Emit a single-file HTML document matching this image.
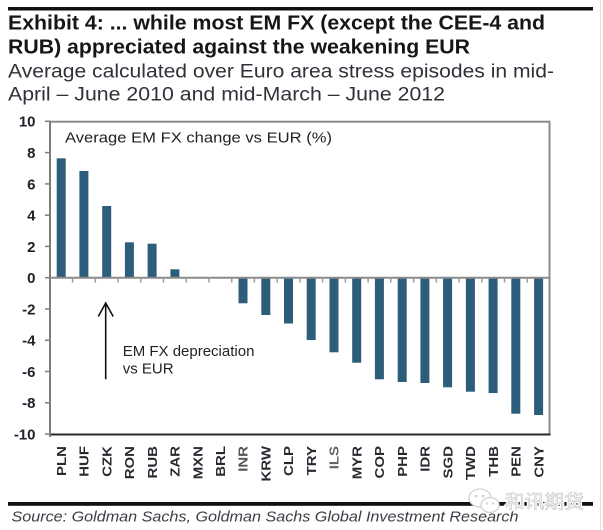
<!DOCTYPE html>
<html>
<head>
<meta charset="utf-8">
<style>
  html, body { margin:0; padding:0; background:#fff; }
  body { width:603px; height:530px; overflow:hidden; }
  svg { display:block; }
  text { font-family: "Liberation Sans", Arial, sans-serif; }
</style>
</head>
<body>
<svg width="603" height="530" viewBox="0 0 603 530" xmlns="http://www.w3.org/2000/svg">
  <rect x="0" y="0" width="603" height="530" fill="#fff"/>
  <!-- faint right border -->
  <line x1="600.5" y1="0" x2="600.5" y2="530" stroke="#e2e2e2" stroke-width="1"/>

  <!-- top rule -->
  <rect x="8" y="7" width="585" height="3.5" fill="#111"/>

  <!-- title -->
  <text x="8" y="29.5" font-size="20" font-weight="bold" fill="#161616" textLength="537" lengthAdjust="spacingAndGlyphs">Exhibit 4: ... while most EM FX (except the CEE-4 and</text>
  <text x="8" y="53.5" font-size="20" font-weight="bold" fill="#161616" textLength="462" lengthAdjust="spacingAndGlyphs">RUB) appreciated against the weakening EUR</text>
  <text x="8" y="77.5" font-size="19" fill="#33303a" textLength="546" lengthAdjust="spacingAndGlyphs">Average calculated over Euro area stress episodes in mid-</text>
  <text x="8" y="100.5" font-size="19" fill="#33303a" textLength="437" lengthAdjust="spacingAndGlyphs">April – June 2010 and mid-March – June 2012</text>

  <!-- plot frame -->
  <rect x="50" y="121.7" width="499.5" height="312.8" fill="none" stroke="#8a8a8a" stroke-width="2"/>
  <line x1="49" y1="434.5" x2="550.5" y2="434.5" stroke="#2a2a2a" stroke-width="2"/>
  <line x1="50" y1="120.7" x2="50" y2="437" stroke="#7c7c7c" stroke-width="2"/>

  <!-- y ticks -->
  <g stroke="#7c7c7c" stroke-width="1.5">
    <line x1="45" y1="121.3" x2="50" y2="121.3"/>
    <line x1="45" y1="152.6" x2="50" y2="152.6"/>
    <line x1="45" y1="183.9" x2="50" y2="183.9"/>
    <line x1="45" y1="215.2" x2="50" y2="215.2"/>
    <line x1="45" y1="246.4" x2="50" y2="246.4"/>
    <line x1="45" y1="277.7" x2="50" y2="277.7"/>
    <line x1="45" y1="309.0" x2="50" y2="309.0"/>
    <line x1="45" y1="340.3" x2="50" y2="340.3"/>
    <line x1="45" y1="371.5" x2="50" y2="371.5"/>
    <line x1="45" y1="402.8" x2="50" y2="402.8"/>
    <line x1="45" y1="434.1" x2="50" y2="434.1"/>
  </g>

  <!-- y labels -->
  <g font-size="15" font-weight="bold" fill="#22202a" text-anchor="end">
    <text x="35.5" y="126.7">10</text>
    <text x="35.5" y="158.0">8</text>
    <text x="35.5" y="189.3">6</text>
    <text x="35.5" y="220.6">4</text>
    <text x="35.5" y="251.8">2</text>
    <text x="35.5" y="283.1">0</text>
    <text x="35.5" y="314.4">-2</text>
    <text x="35.5" y="345.7">-4</text>
    <text x="35.5" y="376.9">-6</text>
    <text x="35.5" y="408.2">-8</text>
    <text x="35.5" y="439.5">-10</text>
  </g>

  <!-- legend label -->
  <text x="65" y="142.7" font-size="15" fill="#222" textLength="267" lengthAdjust="spacingAndGlyphs">Average EM FX change vs EUR (%)</text>

  <!-- bars -->
  <g fill="#2c5d7b">
    <rect x="56.7" y="158.3" width="9" height="119.4"/>
    <rect x="79.4" y="171.0" width="9" height="106.7"/>
    <rect x="102.2" y="206.0" width="9" height="71.7"/>
    <rect x="124.9" y="242.3" width="9" height="35.4"/>
    <rect x="147.6" y="243.7" width="9" height="34.0"/>
    <rect x="170.4" y="269.3" width="9" height="8.4"/>
    <rect x="238.5" y="277.7" width="9" height="25.6"/>
    <rect x="261.3" y="277.7" width="9" height="37.3"/>
    <rect x="284.0" y="277.7" width="9" height="45.8"/>
    <rect x="306.7" y="277.7" width="9" height="62.3"/>
    <rect x="329.5" y="277.7" width="9" height="74.6"/>
    <rect x="352.2" y="277.7" width="9" height="85.0"/>
    <rect x="374.9" y="277.7" width="9" height="101.6"/>
    <rect x="397.7" y="277.7" width="9" height="104.3"/>
    <rect x="420.4" y="277.7" width="9" height="105.3"/>
    <rect x="443.1" y="277.7" width="9" height="109.6"/>
    <rect x="465.9" y="277.7" width="9" height="114.0"/>
    <rect x="488.6" y="277.7" width="9" height="115.3"/>
    <rect x="511.3" y="277.7" width="9" height="136.0"/>
    <rect x="534.1" y="277.7" width="9" height="137.3"/>
  </g>

  <!-- zero line with ticks -->
  <line x1="50" y1="277.7" x2="549.5" y2="277.7" stroke="#8a8a8a" stroke-width="2"/>
  <g stroke="#9a9a9a" stroke-width="1.5">
    <line x1="72.6" y1="277.7" x2="72.6" y2="282.5"/>
    <line x1="95.3" y1="277.7" x2="95.3" y2="282.5"/>
    <line x1="118.0" y1="277.7" x2="118.0" y2="282.5"/>
    <line x1="140.8" y1="277.7" x2="140.8" y2="282.5"/>
    <line x1="163.5" y1="277.7" x2="163.5" y2="282.5"/>
    <line x1="186.2" y1="277.7" x2="186.2" y2="282.5"/>
    <line x1="209.0" y1="277.7" x2="209.0" y2="282.5"/>
    <line x1="231.7" y1="277.7" x2="231.7" y2="282.5"/>
    <line x1="254.4" y1="277.7" x2="254.4" y2="282.5"/>
    <line x1="277.2" y1="277.7" x2="277.2" y2="282.5"/>
    <line x1="299.9" y1="277.7" x2="299.9" y2="282.5"/>
    <line x1="322.6" y1="277.7" x2="322.6" y2="282.5"/>
    <line x1="345.4" y1="277.7" x2="345.4" y2="282.5"/>
    <line x1="368.1" y1="277.7" x2="368.1" y2="282.5"/>
    <line x1="390.8" y1="277.7" x2="390.8" y2="282.5"/>
    <line x1="413.6" y1="277.7" x2="413.6" y2="282.5"/>
    <line x1="436.3" y1="277.7" x2="436.3" y2="282.5"/>
    <line x1="459.0" y1="277.7" x2="459.0" y2="282.5"/>
    <line x1="481.8" y1="277.7" x2="481.8" y2="282.5"/>
    <line x1="504.5" y1="277.7" x2="504.5" y2="282.5"/>
    <line x1="527.2" y1="277.7" x2="527.2" y2="282.5"/>
  </g>

  <!-- annotation arrow -->
  <g stroke="#111" stroke-width="1.6" fill="none">
    <line x1="105.7" y1="303.5" x2="105.7" y2="379.3"/>
    <polyline points="98.3,316.5 105.7,303 113.2,316.5"/>
  </g>
  <text x="122.7" y="356" font-size="15" fill="#222">EM FX depreciation</text>
  <text x="122.7" y="373.3" font-size="15" fill="#222">vs EUR</text>

  <!-- x labels -->
  <g font-size="15" font-weight="bold" fill="#2a2830" text-anchor="end">
    <text transform="translate(65.9,446) rotate(-90) scale(1,0.88)">PLN</text>
    <text transform="translate(88.6,446) rotate(-90) scale(1,0.88)">HUF</text>
    <text transform="translate(111.4,446) rotate(-90) scale(1,0.88)">CZK</text>
    <text transform="translate(134.1,446) rotate(-90) scale(1,0.88)">RON</text>
    <text transform="translate(156.8,446) rotate(-90) scale(1,0.88)">RUB</text>
    <text transform="translate(179.6,446) rotate(-90) scale(1,0.88)">ZAR</text>
    <text transform="translate(202.3,446) rotate(-90) scale(1,0.88)">MXN</text>
    <text transform="translate(225.0,446) rotate(-90) scale(1,0.88)">BRL</text>
    <text transform="translate(247.7,446) rotate(-90) scale(1,0.88)" fill="#55535a">INR</text>
    <text transform="translate(270.5,446) rotate(-90) scale(1,0.88)">KRW</text>
    <text transform="translate(293.2,446) rotate(-90) scale(1,0.88)">CLP</text>
    <text transform="translate(315.9,446) rotate(-90) scale(1,0.88)">TRY</text>
    <text transform="translate(338.7,446) rotate(-90) scale(1,0.88)" fill="#66646a">ILS</text>
    <text transform="translate(361.4,446) rotate(-90) scale(1,0.88)">MYR</text>
    <text transform="translate(384.1,446) rotate(-90) scale(1,0.88)">COP</text>
    <text transform="translate(406.9,446) rotate(-90) scale(1,0.88)">PHP</text>
    <text transform="translate(429.6,446) rotate(-90) scale(1,0.88)">IDR</text>
    <text transform="translate(452.3,446) rotate(-90) scale(1,0.88)">SGD</text>
    <text transform="translate(475.1,446) rotate(-90) scale(1,0.88)">TWD</text>
    <text transform="translate(497.8,446) rotate(-90) scale(1,0.88)">THB</text>
    <text transform="translate(520.5,446) rotate(-90) scale(1,0.88)">PEN</text>
    <text transform="translate(543.3,446) rotate(-90) scale(1,0.88)">CNY</text>
  </g>

  <!-- bottom rule -->
  <rect x="8" y="502" width="585" height="3.8" fill="#111"/>

  <!-- source -->
  <text x="11.5" y="521.7" font-size="15" font-style="italic" fill="#3e3c44" textLength="507" lengthAdjust="spacingAndGlyphs">Source: Goldman Sachs, Goldman Sachs Global Investment Research</text>

  <!-- watermark -->
  <g>
    <ellipse cx="480" cy="498" rx="11" ry="9" fill="#fff" stroke="#d2d2d2" stroke-width="1.3"/>
    <ellipse cx="490" cy="505" rx="9" ry="7.5" fill="#fff" stroke="#d2d2d2" stroke-width="1.3"/>
    <circle cx="476" cy="496" r="1.3" fill="#d0d0d0"/>
    <circle cx="483" cy="496" r="1.3" fill="#d0d0d0"/>
    <circle cx="487" cy="503.5" r="1.1" fill="#d0d0d0"/>
    <circle cx="493" cy="503.5" r="1.1" fill="#d0d0d0"/>
    <text x="505" y="508" font-size="19" fill="#fff" stroke="#fff" stroke-width="3" textLength="79" lengthAdjust="spacingAndGlyphs" font-family="'Liberation Sans','Noto Sans CJK SC',sans-serif">和讯期货</text>
    <text x="505" y="508" font-size="19" fill="#fafafa" stroke="#cdcdcd" stroke-width="0.7" textLength="79" lengthAdjust="spacingAndGlyphs" font-family="'Liberation Sans','Noto Sans CJK SC',sans-serif">和讯期货</text>
  </g>
</svg>
</body>
</html>
